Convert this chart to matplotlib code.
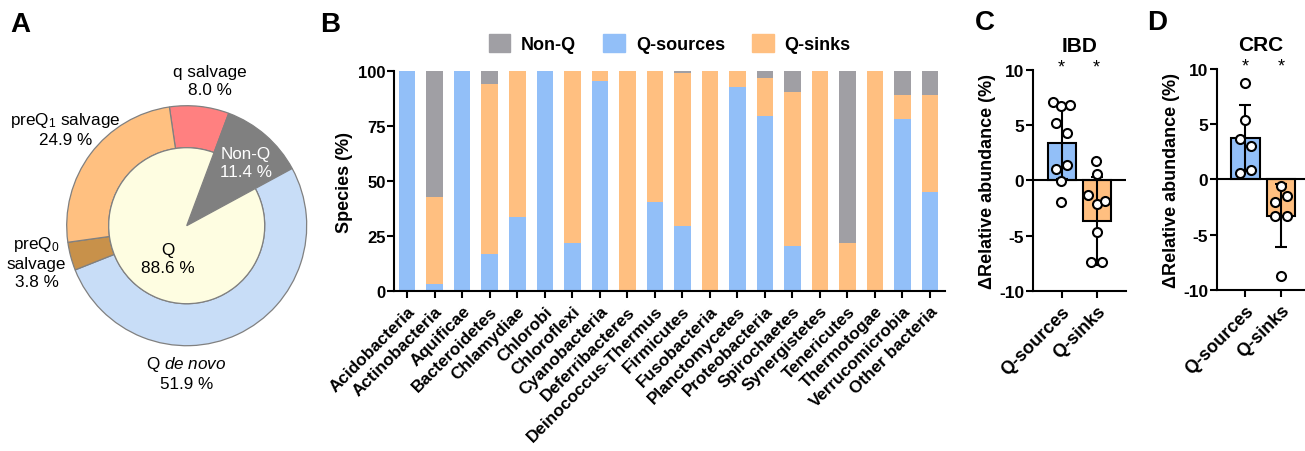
import matplotlib
matplotlib.use("Agg")
import matplotlib.pyplot as plt
from matplotlib.patches import Patch
import numpy as np

plt.rcParams["font.family"] = ["Liberation Sans", "DejaVu Sans"]
plt.rcParams["mathtext.fontset"] = "custom"
plt.rcParams["mathtext.rm"] = "Liberation Sans"
plt.rcParams["mathtext.it"] = "Liberation Sans:italic"
plt.rcParams["mathtext.bf"] = "Liberation Sans:bold"
plt.rcParams["mathtext.default"] = "regular"
plt.rcParams["axes.unicode_minus"] = False

# ---- panel A data ----
outer_labels = ["q salvage", "Non-Q", "Q de novo", "preQ0 salvage", "preQ1 salvage"]
outer_pct = [8.0, 11.4, 51.9, 3.8, 24.9]
inner_labels = ["Non-Q", "Q"]
inner_pct = [11.4, 88.6]

# ---- panel B data ----
phyla = ["Acidobacteria", "Actinobacteria", "Aquificae", "Bacteroidetes", "Chlamydiae",
         "Chlorobi", "Chloroflexi", "Cyanobacteria", "Deferribacteres",
         "Deinococcus-Thermus", "Firmicutes", "Fusobacteria", "Planctomycetes",
         "Proteobacteria", "Spirochaetes", "Synergistetes", "Tenericutes",
         "Thermotogae", "Verrucomicrobia", "Other bacteria"]
q_sources = [100, 3.3, 100, 16.8, 33.8, 100, 22.0, 95.6, 0, 40.5,
             29.8, 0, 92.7, 79.8, 20.5, 0, 0, 0, 78.3, 45.0]
q_sinks = [0, 39.4, 0, 77.6, 66.2, 0, 78.0, 4.4, 100, 59.5,
           69.4, 100, 7.3, 17.3, 70.0, 100, 22.0, 100, 11.1, 44.2]
non_q = [100 - a - b for a, b in zip(q_sources, q_sinks)]

# ---- panels C / D data ----
groups = ["Q-sources", "Q-sinks"]
ibd_mean = [3.4, -3.7]
ibd_sd = [3.3, 4.0]
ibd_sources_pts = [7.08, 6.7, 6.87, 5.2, 4.25, 1.05, 1.42, -0.1, -1.96]
ibd_sinks_pts = [1.75, 0.54, -1.3, -2.1, -1.87, -4.67, -7.38, -7.38]
crc_mean = [3.72, -3.29]
crc_sd = [3.0, 2.87]
crc_sources_pts = [8.73, 5.38, 3.66, 3.05, 0.57, 0.85]
crc_sinks_pts = [-0.57, -2.08, -1.54, -3.29, -3.29, -8.79]
# horizontal spread of the dots (fraction of a category step)
ibd_sources_dx = [-0.26, -0.02, 0.24, -0.17, 0.14, -0.17, 0.16, -0.02, -0.02]
ibd_sinks_dx = [-0.02, 0.0, -0.26, 0.0, 0.25, 0.0, -0.16, 0.14]
crc_sources_dx = [0.0, 0.0, -0.15, 0.16, -0.15, 0.16]
crc_sinks_dx = [0.0, -0.16, 0.17, -0.16, 0.17, 0.0]

GRAY = "#a09fa4"
BLUE = "#92bff8"
ORANGE = "#ffbf80"

W, H = 1305, 452
fig = plt.figure(figsize=(W / 100, H / 100), dpi=100)


def fbox(x0, y0, x1, y1):
    return [x0 / W, 1 - y1 / H, (x1 - x0) / W, (y1 - y0) / H]


# ================= A =================
axA = fig.add_axes(fbox(66.7, 106.7, 306.7, 346.7))
outer_colors = ["#ff8080", "#808080", "#c8ddf7", "#c8914a", "#ffc080"]
axA.pie(outer_pct, radius=1.0, startangle=98.3, counterclock=False,
        colors=outer_colors,
        wedgeprops=dict(width=0.35, edgecolor="#808080", linewidth=0.9))
axA.pie(inner_pct, radius=0.65, startangle=98.3 - outer_pct[0] * 3.6, counterclock=False,
        colors=["#808080", "#fefde1"],
        wedgeprops=dict(edgecolor="#808080", linewidth=0.9))
axA.set_xlim(-1, 1)
axA.set_ylim(-1, 1)
axA.set_aspect("equal")
lab_kw = dict(ha="center", va="center", fontsize=12.3, linespacing=1.25, clip_on=False)
axA.text(0.19, 1.21, f"q salvage\n{outer_pct[0]:.1f} %", **lab_kw)
axA.text(-1.01, 0.81, f"preQ$_1$ salvage\n{outer_pct[4]:.1f} %", **lab_kw)
axA.text(-1.25, -0.30, f"preQ$_0$\nsalvage\n{outer_pct[3]:.1f} %", **lab_kw)
axA.text(0.0, -1.22, f"Q $\\it{{de\\ novo}}$\n{outer_pct[2]:.1f} %", **lab_kw)
axA.text(0.49, 0.53, f"Non-Q\n{outer_pct[1]:.1f} %", color="white", **lab_kw)
axA.text(-0.16, -0.27, f"Q\n{inner_pct[1]:.1f} %", **lab_kw)

# ================= B =================
axB = fig.add_axes(fbox(394.3, 72.3, 945, 292.3))
x = np.arange(len(phyla))
bw = 0.6
axB.bar(x, q_sources, bw, color=BLUE, label="Q-sources")
axB.bar(x, q_sinks, bw, bottom=q_sources, color=ORANGE, label="Q-sinks")
axB.bar(x, non_q, bw, bottom=np.array(q_sources) + np.array(q_sinks), color=GRAY, label="Non-Q")
axB.set_xlim(-0.47, 19.55)
axB.set_ylim(0, 100)
axB.set_yticks([0, 25, 50, 75, 100])
axB.set_xticks(x)
axB.set_xticklabels(phyla, rotation=45, ha="right", rotation_mode="anchor",
                    fontweight="bold", fontsize=12.3)
axB.set_ylabel("Species (%)", fontweight="bold", fontsize=13, labelpad=4)
for t in axB.get_yticklabels():
    t.set_fontweight("bold")
    t.set_fontsize(12)
axB.tick_params(direction="out", width=1.5, length=5)
axB.tick_params(axis="y", pad=1)
for s in ["top", "right"]:
    axB.spines[s].set_visible(False)
for s in ["left", "bottom"]:
    axB.spines[s].set_linewidth(1.5)
handles = [Patch(color=GRAY), Patch(color=BLUE), Patch(color=ORANGE)]
axB.legend(handles, ["Non-Q", "Q-sources", "Q-sinks"], loc="lower center",
           bbox_to_anchor=(0.5, 1.05), ncol=3, frameon=False,
           prop=dict(weight="bold", size=13), handlelength=1.2, handleheight=1.2,
           columnspacing=1.5, handletextpad=0.6, borderaxespad=0)


# ================= C / D =================
def delta_panel(box, title, means, sds, pts, dxs, xlim):
    ax = fig.add_axes(fbox(*box))
    xs = np.arange(2)
    ax.bar(xs, means, 0.8, color=[BLUE, ORANGE], edgecolor="black", linewidth=1.5, zorder=2)
    ax.errorbar(xs, means, yerr=sds, fmt="none", ecolor="black", elinewidth=1.5,
                capsize=4, capthick=1.5, zorder=3)
    for xi, p, d in zip(xs, pts, dxs):
        ax.plot(xi + np.array(d), p, "o", mfc="white", mec="black", mew=1.5, ms=6.5,
                linestyle="none", zorder=4)
    ax.axhline(0, color="black", linewidth=1.5, zorder=2.5)
    for xi in xs:
        ax.text(xi, 10.3, "*", ha="center", va="center", fontsize=13, clip_on=False)
    ax.set_xlim(*xlim)
    ax.set_ylim(-10, 10)
    ax.set_yticks([-10, -5, 0, 5, 10])
    ax.set_xticks(xs)
    ax.set_xticklabels(groups, rotation=45, ha="right", rotation_mode="anchor",
                       fontweight="bold", fontsize=13)
    for t in ax.get_yticklabels():
        t.set_fontweight("bold")
        t.set_fontsize(12.5)
    ax.set_ylabel("\u0394Relative abundance (%)", fontweight="bold", fontsize=13, labelpad=2)
    ax.set_title(title, fontweight="bold", fontsize=15, pad=14)
    ax.tick_params(direction="out", width=1.5, length=5)
    ax.tick_params(axis="y", pad=1)
    for s in ["top", "right"]:
        ax.spines[s].set_visible(False)
    for s in ["left", "bottom"]:
        ax.spines[s].set_linewidth(1.5)
    return ax


delta_panel((1032.7, 71, 1125.7, 291.7), "IBD", ibd_mean, ibd_sd,
            [ibd_sources_pts, ibd_sinks_pts], [ibd_sources_dx, ibd_sinks_dx], (-0.83, 1.83))
delta_panel((1216.7, 70, 1305, 290.7), "CRC", crc_mean, crc_sd,
            [crc_sources_pts, crc_sinks_pts], [crc_sources_dx, crc_sinks_dx], (-0.81, 1.68))

# panel letters
for lx, ly, letter in [(20, 25, "A"), (330, 25, "B"), (985, 23, "C"), (1157, 23, "D")]:
    fig.text(lx / W, 1 - ly / H, letter, fontweight="bold", fontsize=20, ha="center", va="center")

fig.savefig("out.png", dpi=100)
